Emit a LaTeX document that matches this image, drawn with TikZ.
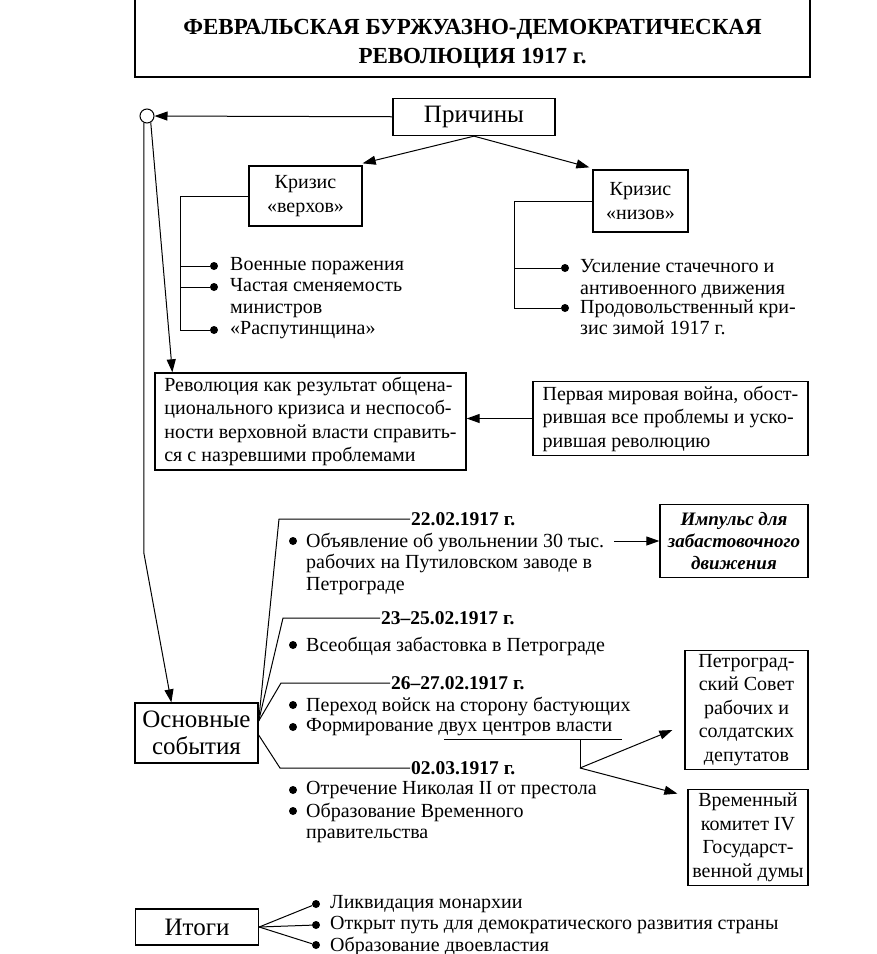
\documentclass[tikz,border=0pt]{standalone}
\usepackage{fontspec}
\setmainfont{Liberation Serif}
\usetikzlibrary{arrows.meta}
\usetikzlibrary{shapes}

\begin{document}
\begin{tikzpicture}[x = 1pt, y = -1pt, font = \fontsize{20}{21.5}\selectfont]
	\tikzstyle{boxStyle} = [draw, line width = 1.3pt, inner sep = 4pt, align = center, font = \fontsize{20}{23.5}\selectfont]
	\tikzstyle{bigStyle} = [draw, line width = 1.3pt, inner sep = 3pt, align = center, font = \fontsize{25}{27}\selectfont]
	\tikzstyle{itemStyle} = [anchor = north west, inner sep = 0pt, align = left]
	\tikzstyle{dotStyle} = [shape = circle, fill, inner sep = 0pt, minimum size = 8pt]
	\tikzstyle{dateStyle} = [anchor = west, inner sep = 1pt, font = \fontsize{19.5}{21}\selectfont\bfseries]
	\tikzstyle{lineStyle} = [line width = 1pt]
	\tikzstyle{arrowStyle} = [line width = 1pt, -{Triangle[length = 13pt, width = 9pt]}]
	\useasboundingbox (0, 0) rectangle (877, 954);
	% title
	\draw[line width = 1.5pt] (135, 0) -- (135, 77) -- (810, 77) -- (810, 0);
	\node[inner sep = 0pt, align = center, font = \fontsize{23}{29}\selectfont\bfseries] (title) at (472.5, 44) {ФЕВРАЛЬСКАЯ БУРЖУАЗНО-ДЕМОКРАТИЧЕСКАЯ\\РЕВОЛЮЦИЯ 1917 г.};
	% causes
	\node[shape = circle, draw, line width = 1pt, minimum size = 14pt, inner sep = 0pt] (hub) at (147, 116) {};
	\node[bigStyle, minimum width = 162pt, minimum height = 37pt] (causes) at (474, 117) {Причины};
	\node[boxStyle, minimum width = 113pt, minimum height = 60pt] (topCrisis) at (305.5, 196) {Кризис\\«верхов»};
	\node[boxStyle, minimum width = 95pt, minimum height = 62pt] (lowCrisis) at (640.5, 201) {Кризис\\«низов»};
	\draw[arrowStyle] (causes) -- (hub);
	\draw[arrowStyle] (causes.south) -- ([yshift = 2pt]topCrisis.north east);
	\draw[arrowStyle] (causes.south) -- ([xshift = -3pt, yshift = 2pt]lowCrisis.north west);
	\node[dotStyle] (t1) at (214, 266) {};
	\node[dotStyle] (t2) at (214, 287) {};
	\node[dotStyle] (t3) at (214, 330) {};
	\node[itemStyle] at (230, 257.5) {Военные поражения};
	\node[itemStyle] at (230, 278.5) {Частая сменяемость\\министров};
	\node[itemStyle] at (230, 321.5) {«Распутинщина»};
	\coordinate (ta) at (180, 196);
	\draw[lineStyle] (topCrisis.west) -- (ta) |- (t3);
	\draw[lineStyle] (ta |- t1) -- (t1);
	\draw[lineStyle] (ta |- t2) -- (t2);
	\node[dotStyle] (b1) at (565, 268) {};
	\node[dotStyle] (b2) at (565, 308) {};
	\node[itemStyle] at (580, 259.5) {Усиление стачечного и\\антивоенного движения};
	\node[itemStyle] at (580, 299.5) {Продовольственный кри-\\зис зимой 1917 г.};
	\coordinate (ba) at (514, 201);
	\draw[lineStyle] (lowCrisis.west) -- (ba) |- (b2);
	\draw[lineStyle] (ba |- b1) -- (b1);
	% revolution
	\node[boxStyle, align = left, minimum width = 311pt, minimum height = 97pt] (rev) at (310.5, 421.5) {Революция как результат общена-\\ционального кризиса и неспособ-\\ности верховной власти справить-\\ся с назревшими проблемами};
	\node[boxStyle, align = left, minimum width = 275pt, minimum height = 67pt] (war) at (670.5, 418.5) {Первая мировая война, обост-\\рившая все проблемы и уско-\\рившая революцию};
	\draw[arrowStyle] (war.west) -- (war.west -| rev.east);
	\draw[arrowStyle] (hub.-60) -- ([xshift = 18pt]rev.north west);
	% events
	\node[bigStyle, minimum width = 123pt, minimum height = 60pt] (events) at (196.5, 733) {Основные\\события};
	\draw[arrowStyle] (hub.-115) -- ++(0, 430) -- ([xshift = 37pt]events.north west);
	\coordinate (fan) at ([yshift = 12pt]events.east);
	\node[dateStyle] (d1) at (410, 519) {22.02.1917 г.};
	\node[dateStyle] (d2) at (380, 618) {23–25.02.1917 г.};
	\node[dateStyle] (d3) at (390, 683) {26–27.02.1917 г.};
	\node[dateStyle] (d4) at (410, 768) {02.03.1917 г.};
	\coordinate (k1) at (279, 519);
	\coordinate (k2) at (283, 618);
	\coordinate (k3) at (281, 683);
	\coordinate (k4) at (280, 768);
	\draw[lineStyle] (fan) -- (k1) -- (d1);
	\draw[lineStyle] (fan) -- (k2) -- (d2);
	\draw[lineStyle] (fan) -- (k3) -- (d3);
	\draw[lineStyle] ([yshift = -2pt]events.east) -- (k4) -- (d4);
	\node[dotStyle] (e1) at (293, 541) {};
	\node[dotStyle] (e2) at (293, 645) {};
	\node[dotStyle] (e3) at (293, 705) {};
	\node[dotStyle] (e4) at (293, 727) {};
	\node[dotStyle] (e5) at (293, 790) {};
	\node[dotStyle] (e6) at (293, 811) {};
	\node[itemStyle] at (306, 532.5) {Объявление об увольнении 30 тыс.\\рабочих на Путиловском заводе в\\Петрограде};
	\node[itemStyle] at (306, 636.5) {Всеобщая забастовка в Петрограде};
	\node[itemStyle] at (306, 696.5) {Переход войск на сторону бастующих};
	\node[itemStyle] at (306, 718.5) {Формирование двух центров власти};
	\node[itemStyle] at (306, 781.5) {Отречение Николая II от престола};
	\node[itemStyle] at (306, 802.5) {Образование Временного\\правительства};
	\node[boxStyle, minimum width = 148pt, minimum height = 73pt, font = \fontsize{19}{22}\selectfont\bfseries\itshape] (impulse) at (734, 541) {Импульс для\\забастовочного\\движения};
	\coordinate (imp) at (614, 541);
	\draw[arrowStyle] (imp) -- (impulse.west);
	\node[boxStyle, minimum width = 123pt, minimum height = 116pt] (sovet) at (746.5, 710) {Петроград-\\ский Совет\\рабочих и\\солдатских\\депутатов};
	\node[boxStyle, minimum width = 120pt, minimum height = 95pt] (duma) at (748, 837.5) {Временный\\комитет IV\\Государст-\\венной думы};
	\coordinate (u0) at (444, 739);
	\coordinate (u1) at (622, 739);
	\coordinate (us) at (580, 739);
	\coordinate (fork) at (580, 768);
	\draw[lineStyle] (u0) -- (u1);
	\draw[lineStyle] (us) -- (fork);
	\draw[arrowStyle] (fork) -- ([xshift = -12pt, yshift = -20pt]sovet.west);
	\draw[arrowStyle] (fork) -- ([xshift = -10pt, yshift = -5pt]duma.north west);
	% results
	\node[bigStyle, minimum width = 123pt, minimum height = 36pt] (results) at (197, 927) {Итоги};
	\node[dotStyle] (r1) at (316, 904) {};
	\node[dotStyle] (r2) at (316, 925) {};
	\node[dotStyle] (r3) at (316, 945) {};
	\node[itemStyle] at (330, 895.5) {Ликвидация монархии};
	\node[itemStyle] at (330, 916.5) {Открыт путь для демократического развития страны};
	\node[itemStyle] at (330, 936.5) {Образование двоевластия};
	\draw[lineStyle] (results.east) -- (r1);
	\draw[lineStyle] (results.east) -- (r2);
	\draw[lineStyle] (results.east) -- (r3);
\end{tikzpicture}
\end{document}
